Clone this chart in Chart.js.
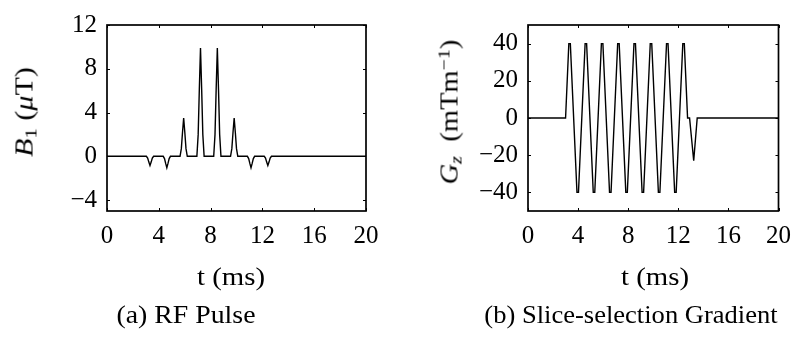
<!DOCTYPE html>
<html>
<head>
<meta charset="utf-8">
<script src="https://cdn.jsdelivr.net/npm/chart.js@4.4.1/dist/chart.umd.min.js"></script>
<style>
html,body{margin:0;padding:0;background:#fff;}
#wrap{position:relative;width:801px;height:342px;overflow:hidden;background:#fff;}
.cv{position:absolute;top:0;}
.lbl{position:absolute;font-family:'Liberation Serif','Times New Roman',serif;color:#000;white-space:nowrap;line-height:1;left:0;top:0;}
.sub{position:relative;top:0.25em;font-size:0.7em;}
.sup{position:relative;top:-0.45em;font-size:0.7em;}
</style>
</head>
<body>
<div id="wrap">
  <div class="cv" style="left:0;width:400px;height:342px;"><canvas id="c1"></canvas></div>
  <div class="cv" style="left:400px;width:401px;height:342px;"><canvas id="c2"></canvas></div>
  <div class="lbl" id="yl1" style="font-size:25px;"><i>B</i><span class="sub">1</span>&nbsp;(<i>μ</i>T)</div>
  <div class="lbl" id="yl2" style="font-size:25px;"><i>G</i><span class="sub"><i>z</i></span>&nbsp;&nbsp;(mTm<span class="sup">−1</span>)</div>
  <div class="lbl" id="xl1" style="font-size:25px;">t (ms)</div>
  <div class="lbl" id="xl2" style="font-size:25px;">t (ms)</div>
  <div class="lbl" id="cap1" style="font-size:25px;">(a) RF Pulse</div>
  <div class="lbl" id="cap2" style="font-size:25px;">(b) Slice-selection Gradient</div>
</div>
<script>
// ---- data ----
const tRF = [0, 3.04, 3.14, 3.23, 3.32, 3.41, 3.50, 3.60,
             4.34, 4.44, 4.53, 4.62, 4.71, 4.80, 4.90,
             5.64, 5.74, 5.83, 5.92, 6.01, 6.10, 6.20,
             6.94, 7.04, 7.13, 7.22, 7.31, 7.40, 7.50,
             8.24, 8.34, 8.43, 8.52, 8.61, 8.70, 8.80,
             9.54, 9.64, 9.73, 9.82, 9.91, 10.00, 10.10,
             10.84, 10.94, 11.03, 11.12, 11.21, 11.30, 11.40,
             12.14, 12.24, 12.33, 12.42, 12.51, 12.60, 12.70, 20];
const b1 = [0, 0, -0.17, -0.53, -0.85, -0.53, -0.17, 0,
            0, -0.21, -0.65, -1.05, -0.65, -0.21, 0,
            0, 0.70, 2.17, 3.50, 2.17, 0.70, 0,
            0, 1.98, 6.14, 9.90, 6.14, 1.98, 0,
            0, 1.98, 6.14, 9.90, 6.14, 1.98, 0,
            0, 0.70, 2.17, 3.50, 2.17, 0.70, 0,
            0, -0.21, -0.65, -1.05, -0.65, -0.21, 0,
            0, -0.17, -0.53, -0.85, -0.53, -0.17, 0, 0];
const tG = [0, 3.0, 3.26, 3.38, 3.91, 4.03, 4.56, 4.68, 5.21, 5.33, 5.86, 5.98,
            6.51, 6.63, 7.16, 7.28, 7.81, 7.93, 8.46, 8.58, 9.11, 9.23, 9.76, 9.88,
            10.41, 10.53, 11.06, 11.18, 11.71, 11.83, 12.36, 12.48, 12.74, 12.90,
            13.23, 13.51, 20];
const gz = [0, 0, 40, 40, -40, -40, 40, 40, -40, -40, 40, 40,
            -40, -40, 40, 40, -40, -40, 40, 40, -40, -40, 40, 40,
            -40, -40, 40, 40, -40, -40, 40, 40, 0, 0,
            -23, 0, 0];
const xTicks = [0, 4, 8, 12, 16, 20];
const xTickLabels = ['0', '4', '8', '12', '16', '20'];
const yTicksA = [-4, 0, 4, 8, 12];
const yTickLabelsA = ['−4', '0', '4', '8', '12'];
const yTicksB = [-40, -20, 0, 20, 40];
const yTickLabelsB = ['−40', '−20', '0', '20', '40'];

const FONT = "'Liberation Serif','Times New Roman',serif";

const boxPlugin = {
  id: 'box',
  afterDatasetsDraw(chart) {
    const {ctx, chartArea: {left, right, top, bottom}, scales: {x, y}} = chart;
    ctx.save();
    ctx.strokeStyle = '#000';
    ctx.lineWidth = 1;
    const L = 3;
    ctx.beginPath();
    x.ticks.forEach(t => {
      const px = Math.round(x.getPixelForValue(t.value)) + 0.5;
      ctx.moveTo(px, bottom); ctx.lineTo(px, bottom - L);
      ctx.moveTo(px, top); ctx.lineTo(px, top + L);
    });
    y.ticks.forEach(t => {
      const py = Math.round(y.getPixelForValue(t.value)) + 0.5;
      ctx.moveTo(left, py); ctx.lineTo(left + L, py);
      ctx.moveTo(right, py); ctx.lineTo(right - L, py);
    });
    ctx.stroke();
    ctx.lineWidth = 1.7;
    ctx.strokeRect(left, top, right - left, bottom - top);
    ctx.restore();
  }
};

function makeChart(id, w, tArr, vArr, yMin, yMax, yTicks, yLabels, pad) {
  const cv = document.getElementById(id);
  cv.width = w; cv.height = 342;
  cv.style.width = w + 'px'; cv.style.height = '342px';
  return new Chart(cv, {
    type: 'line',
    data: {
      datasets: [{
        data: tArr.map((t, i) => ({x: t, y: vArr[i]})),
        borderColor: '#000',
        borderWidth: 1.4,
        pointRadius: 0,
        tension: 0,
        fill: false
      }]
    },
    options: {
      responsive: false,
      animation: false,
      devicePixelRatio: 1,
      layout: {padding: pad},
      plugins: {legend: {display: false}, tooltip: {enabled: false}},
      scales: {
        x: {
          type: 'linear', min: 0, max: 20,
          afterBuildTicks: s => { s.ticks = xTicks.map(v => ({value: v})); },
          afterFit: s => { s.height = 40; },
          grid: {display: false, drawTicks: false},
          border: {display: false},
          ticks: {
            font: {family: FONT, size: 25}, color: '#000', padding: 10,
            maxRotation: 0, autoSkip: false,
            callback: (v, i) => xTickLabels[i]
          }
        },
        y: {
          type: 'linear', min: yMin, max: yMax,
          afterBuildTicks: s => { s.ticks = yTicks.map(v => ({value: v})); },
          afterFit: s => { s.width = 70; },
          grid: {display: false, drawTicks: false},
          border: {display: false},
          ticks: {
            font: {family: FONT, size: 25}, color: '#000', padding: 10,
            autoSkip: false,
            callback: (v, i) => yLabels[i]
          }
        }
      }
    },
    plugins: [boxPlugin]
  });
}

makeChart('c1', 400, tRF, b1, -5, 12, yTicksA, yTickLabelsA,
          {left: 37, right: 34, top: 11, bottom: 91});
makeChart('c2', 401, tG, gz, -50, 50, yTicksB, yTickLabelsB,
          {left: 58, right: 14, top: 10, bottom: 91});

function place(id, cx, cy, len, rot) {
  const el = document.getElementById(id);
  const w = el.offsetWidth;
  const s = len / w;
  el.style.transformOrigin = '0 0';
  el.style.transform = 'translate(' + cx + 'px,' + cy + 'px) ' +
    (rot ? 'rotate(-90deg) ' : '') + 'scaleX(' + s + ') translate(-50%,-50%)';
}
place('yl1', 24, 112, 90, true);
place('yl2', 449, 112, 145, true);
place('xl1', 231, 276, 68, false);
place('xl2', 655, 276, 68, false);
place('cap1', 186, 314, 139, false);
place('cap2', 631, 314, 293, false);
</script>
</body>
</html>
